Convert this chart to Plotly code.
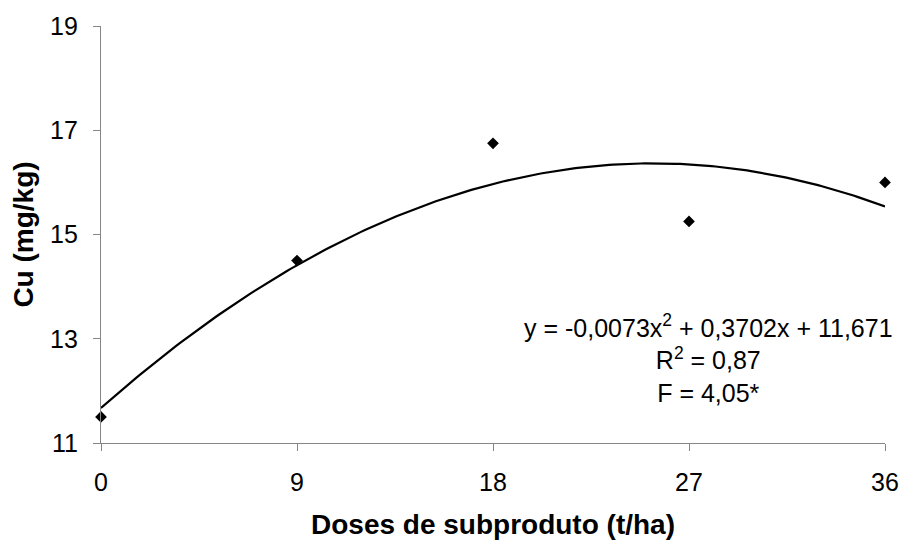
import numpy as np
import plotly.graph_objects as go

# Observed copper contents per dose
doses = [0, 9, 18, 27, 36]
cu_values = [11.5, 14.5, 16.75, 15.25, 16.0]

# Quadratic trend coefficients (a*x^2 + b*x + c)
coef_a = -0.0073
coef_b = 0.3702
coef_c = 11.671

x_ticks = [0, 9, 18, 27, 36]
y_ticks = [11, 13, 15, 17, 19]

FONT = "Liberation Sans, Arial, sans-serif"
AXIS_GREY = "#868686"

x_fit = np.linspace(0, 36, 200)
y_fit = coef_a * x_fit ** 2 + coef_b * x_fit + coef_c

fig = go.Figure()
fig.add_trace(go.Scatter(
    x=x_fit, y=y_fit, mode="lines",
    line=dict(color="black", width=2.2),
    hoverinfo="skip", showlegend=False,
))
fig.add_trace(go.Scatter(
    x=doses, y=cu_values, mode="markers",
    marker=dict(symbol="diamond", size=9, color="black"),
    showlegend=False, cliponaxis=False,
))

fig.add_annotation(
    x=27.9, y=12.62, xref="x", yref="y",
    text="y = -0,0073x<sup>2</sup> + 0,3702x + 11,671<br>R<sup>2</sup> = 0,87<br>F = 4,05*",
    showarrow=False, align="center", xanchor="center", yanchor="middle",
    font=dict(family=FONT, size=25, color="black"),
)

fig.update_xaxes(
    range=[0, 36], tickvals=x_ticks, ticktext=[str(v) for v in x_ticks],
    showline=True, linecolor=AXIS_GREY, linewidth=1.2,
    ticks="outside", ticklen=7, tickcolor=AXIS_GREY, tickwidth=1.2,
    showgrid=False, zeroline=False, ticklabelstandoff=10,
    tickfont=dict(family=FONT, size=25, color="black"),
    title=dict(text="<b>Doses de subproduto (t/ha)</b>", standoff=19,
               font=dict(family=FONT, size=28, color="black")),
)
fig.update_yaxes(
    range=[11, 19], tickvals=y_ticks, ticktext=[str(v) for v in y_ticks],
    showline=True, linecolor=AXIS_GREY, linewidth=1.2,
    ticks="outside", ticklen=7, tickcolor=AXIS_GREY, tickwidth=1.2,
    showgrid=False, zeroline=False, ticklabelstandoff=10,
    tickfont=dict(family=FONT, size=25, color="black"),
    title=dict(text="<b>Cu (mg/kg)</b>", standoff=8,
               font=dict(family=FONT, size=28, color="black")),
)

fig.update_layout(
    width=911, height=547,
    margin=dict(l=101, r=19, t=22, b=99),
    plot_bgcolor="white", paper_bgcolor="white",
)

fig.write_html("out.html")
